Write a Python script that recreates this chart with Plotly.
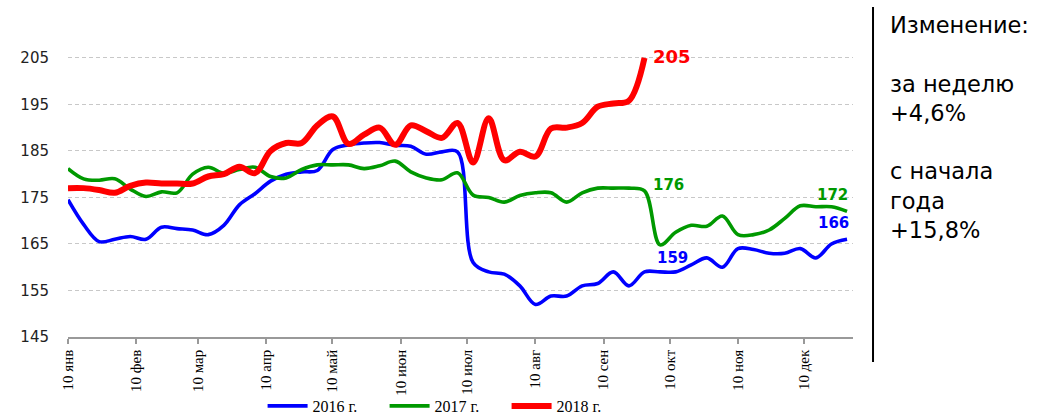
import plotly.graph_objects as go

# weekly observation positions (day of year)
week_days = [10 + i * 7.07 for i in range(51)]

month_tick_days = [10, 41, 69, 100, 130, 161, 191, 222, 253, 283, 314, 344]
month_tick_text = ["10 янв", "10 фев", "10 мар", "10 апр", "10 май", "10 июн",
                   "10 июл", "10 авг", "10 сен", "10 окт", "10 ноя", "10 дек"]

y_ticks = [145, 155, 165, 175, 185, 195, 205]

y2016 = [174.5, 169.2, 165.5, 166.0, 166.6, 166.0, 168.6, 168.3, 168.0, 167.0,
         169.0, 173.4, 175.8, 178.5, 180.0, 180.5, 180.8, 185.3, 186.3, 186.7,
         186.8, 186.2, 186.0, 184.3, 184.8, 184.8, 161.0, 159.0, 158.5, 156.0,
         152.0, 153.8, 153.8, 156.0, 156.5, 159.0, 156.0, 159.0, 159.0, 159.0,
         160.5, 162.0, 160.0, 164.0, 163.8, 163.0, 163.0, 164.0, 162.0, 165.0,
         166.0]

y2017 = [181.2, 179.0, 178.7, 179.0, 176.8, 175.2, 176.2, 176.0, 180.0, 181.5,
         180.2, 181.0, 181.5, 179.5, 179.2, 181.0, 182.0, 182.0, 182.0, 181.2,
         181.8, 182.8, 180.5, 179.2, 178.8, 180.3, 175.5, 175.0, 174.0, 175.4,
         176.0, 176.0, 174.0, 176.0, 177.0, 177.0, 177.0, 176.4, 164.8, 167.5,
         169.0, 168.8, 171.0, 167.0, 167.0, 168.0, 170.5, 173.2, 173.0, 173.0,
         172.0]

y2018 = [177.0, 177.0, 176.6, 176.0, 177.5, 178.2, 178.0, 178.0, 178.0, 179.5,
         180.0, 181.6, 180.2, 185.0, 186.7, 186.7, 190.5, 192.4, 186.5, 188.5,
         190.0, 186.3, 190.5, 189.2, 187.8, 191.0, 182.5, 192.0, 183.0, 184.8,
         183.8, 189.8, 190.0, 191.0, 194.5, 195.2, 195.8, 205.0]

series_names = ["2016 г.", "2017 г.", "2018 г."]
series_colors = ["#0000ff", "#009900", "#ff0000"]
series_widths = [3.6, 3.6, 6]

side_text = ["Изменение:", "", "за неделю", "+4,6%", "", "с начала", "года", "+15,8%"]

fig = go.Figure()
for name, ys, col, w in zip(series_names, [y2016, y2017, y2018], series_colors, series_widths):
    fig.add_trace(go.Scatter(
        x=week_days[:len(ys)], y=ys, mode="lines", name=name,
        line=dict(color=col, width=w, shape="spline", smoothing=1.0),
        hoverinfo="skip",
    ))

# end-value labels (text derived from data points)
labels = [
    (37, y2018, "#ff0000", "left", 6, 1, 18),
    (37, y2017, "#009900", "left", 6, 6, 15),
    (37, y2016, "#0000ff", "left", 10, 14, 15),
    (50, y2017, "#009900", "right", 3, 16, 15),
    (50, y2016, "#0000ff", "right", 4, 16, 15),
]
label_texts = ["205", "176", "159", "172", "166"]
for (idx, ys, col, anchor, xs, ysh, fs), txt in zip(labels, label_texts):
    fig.add_annotation(
        x=week_days[idx], y=ys[idx], text="<b>" + txt + "</b>", showarrow=False,
        xanchor=anchor, yanchor="middle", xshift=xs, yshift=ysh,
        font=dict(family="DejaVu Sans", size=fs, color=col),
    )

fig.add_annotation(
    xref="paper", yref="paper", x=1.0446, y=1.02, xanchor="left", yanchor="top",
    text="<br>".join(side_text), showarrow=False, align="left",
    font=dict(family="DejaVu Sans", size=22.5, color="#000000"),
)

fig.add_shape(type="line", xref="paper", yref="paper",
              x0=1.0255, x1=1.0255, y0=1.028, y1=-0.078,
              line=dict(color="#000000", width=2))

fig.update_layout(
    width=1037, height=414,
    margin=dict(l=68, r=184, t=16, b=77, autoexpand=False),
    paper_bgcolor="white", plot_bgcolor="white",
    showlegend=True,
    legend=dict(orientation="h", x=0.481, xanchor="center", y=-0.215, yanchor="middle",
                font=dict(family="Liberation Serif", size=16, color="#000000"),
                bgcolor="rgba(0,0,0,0)", entrywidth=67, entrywidthmode="pixels",
                itemwidth=40),
    xaxis=dict(
        range=[10, 366.2], tickmode="array", tickvals=month_tick_days, ticktext=month_tick_text,
        tickangle=-90, showgrid=False, zeroline=False, automargin=False,
        showline=True, linecolor="#999999", linewidth=1.5,
        ticks="outside", ticklen=5, tickcolor="#999999", tickwidth=1.5,
        tickfont=dict(family="Liberation Serif", size=15, color="#000000"),
    ),
    yaxis=dict(
        range=[145, 214], tickmode="array", tickvals=y_ticks, automargin=False,
        showgrid=True, gridcolor="#c8c8c8", griddash="4px,3px", gridwidth=1,
        zeroline=False, showline=False, ticks="",
        ticklabelstandoff=18,
        tickfont=dict(family="DejaVu Sans", size=15, color="#222222"),
    ),
)

fig.write_html("out.html", config={"displayModeBar": False},
               post_script="document.body.style.margin='0';")
